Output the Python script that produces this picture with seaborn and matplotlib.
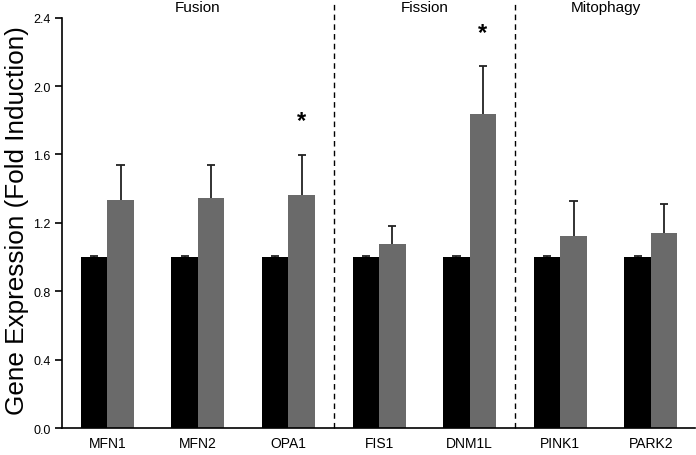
import numpy as np
import pandas as pd
import matplotlib
matplotlib.use("Agg")
import matplotlib.pyplot as plt
import seaborn as sns

# Datos
genes = ["MFN1", "MFN2", "OPA1", "FIS1", "DNM1L", "PINK1", "PARK2"]
control = [1.0, 1.0, 1.0, 1.0, 1.0, 1.0, 1.0]
control_err = [0.005, 0.005, 0.005, 0.005, 0.005, 0.005, 0.005]
tratado = [1.335, 1.345, 1.365, 1.076, 1.834, 1.125, 1.138]
tratado_err = [0.206, 0.196, 0.232, 0.107, 0.281, 0.204, 0.170]
significativo = [False, False, True, False, True, False, False]
grupos = ["Fusion", "Fission", "Mitophagy"]
grupos_pos = [1.0, 3.5, 5.5]
separadores = [2.5, 4.5]

df = pd.DataFrame({
    "gen": genes * 2,
    "grupo": ["control"] * len(genes) + ["tratado"] * len(genes),
    "valor": control + tratado,
    "err": control_err + tratado_err,
})

sns.set_style("ticks", {"text.color": "black", "xtick.color": "black",
                        "ytick.color": "black", "axes.edgecolor": "black",
                        "axes.labelcolor": "black"})
plt.rcParams["font.family"] = ["Liberation Sans", "DejaVu Sans"]

fig = plt.figure(figsize=(6.96, 4.56), dpi=100)
ax = fig.add_axes([0.089, 0.059, 0.91, 0.915])

sns.barplot(data=df, x="gen", y="valor", hue="grupo", order=genes,
            hue_order=["control", "tratado"], palette=["#000000", "#6a6a6a"],
            width=0.585, errorbar=None, saturation=1, legend=False, ax=ax,
            linewidth=0)

# Barras de error (solo hacia arriba, sin tapa inferior)
cap = 0.045
for cont, errs in zip(ax.containers, [control_err, tratado_err]):
    for rect, e in zip(cont, errs):
        xc = rect.get_x() + rect.get_width() / 2
        h = rect.get_height()
        ax.plot([xc, xc], [h, h + e], color="#222222", lw=1.3,
                solid_capstyle="butt")
        ax.plot([xc - cap, xc + cap], [h + e, h + e], color="#222222", lw=1.3,
                solid_capstyle="butt")

# Asteriscos
tr_bars = ax.containers[1]
for rect, e, sig in zip(tr_bars, tratado_err, significativo):
    if sig:
        xc = rect.get_x() + rect.get_width() / 2
        ax.text(xc, rect.get_height() + e + 0.2, "*", ha="center", va="center",
                fontsize=17, fontweight="bold")

for s in separadores:
    ax.axvline(s, ymin=0, ymax=1.02, color="black", linestyle=(0, (4, 3)),
               linewidth=1, clip_on=False)

for g, p in zip(grupos, grupos_pos):
    ax.text(p, 2.465, g, ha="center", va="center", fontsize=11, clip_on=False)

ax.set_xlim(-0.5, 6.49)
ax.set_ylim(0, 2.44)
ax.set_yticks(np.arange(0, 2.41, 0.4))
ax.set_yticklabels([f"{v:.1f}" for v in np.arange(0, 2.41, 0.4)], fontsize=9)
ax.tick_params(axis="x", length=0, labelsize=10, pad=6)
ax.tick_params(axis="y", length=5, width=1.2, direction="out", pad=3)
ax.spines["left"].set_bounds(0, 2.4)
sns.despine(ax=ax)
ax.spines["left"].set_linewidth(1.2)
ax.spines["bottom"].set_linewidth(1.2)
ax.set_xlabel("")
ax.set_ylabel("Gene Expression (Fold Induction)", fontsize=18.8, labelpad=3)

fig.savefig("out.png", dpi=100)
